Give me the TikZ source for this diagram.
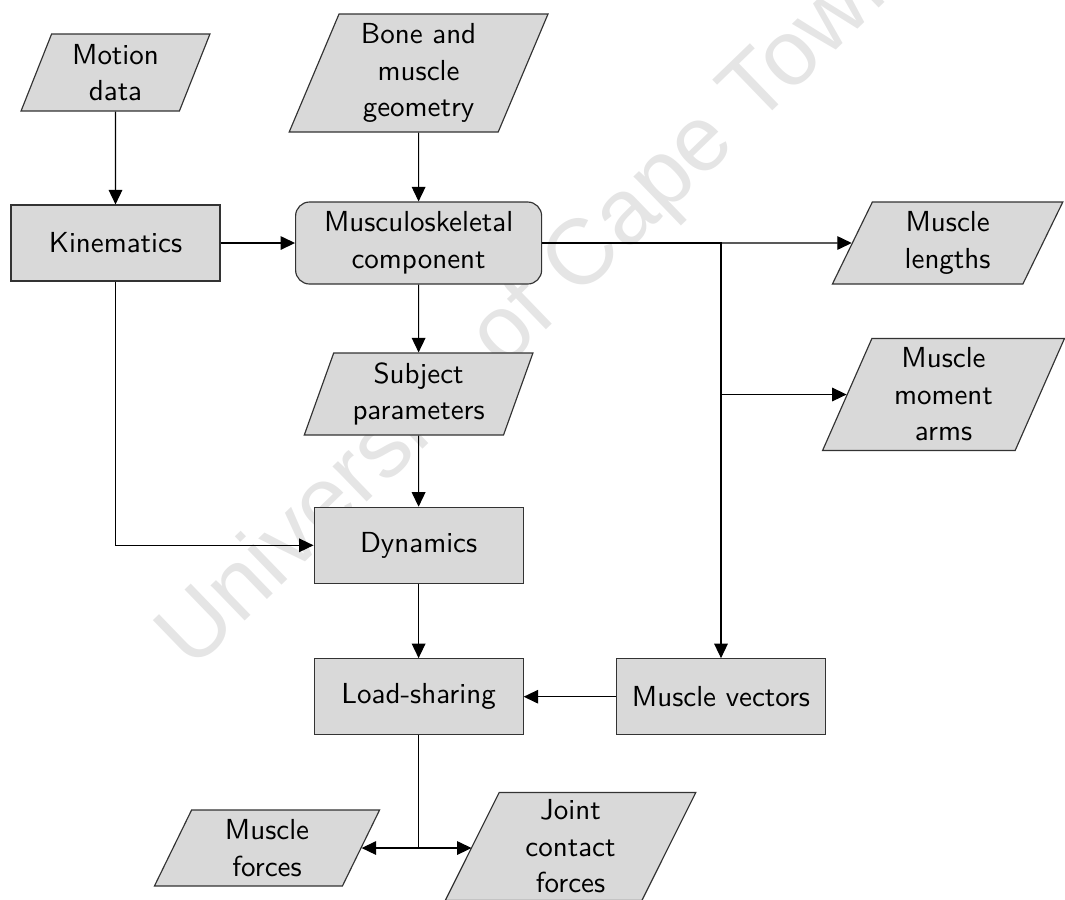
\documentclass[tikz,border=0pt]{standalone}
\usepackage{fontspec}
\usetikzlibrary{shapes.geometric,arrows.meta}
\newfontfamily\wmfont{Liberation Sans}

\tikzset{
  base/.style={draw=black!80, fill=black!15, line width=0.4pt, inner sep=0pt,
    align=center, font=\sffamily\fontsize{10pt}{12.6pt}\selectfont},
  procbox/.style={base, rectangle, minimum width=209*0.345pt, minimum height=76*0.345pt},
  iobox/.style={base, trapezium, trapezium left angle=70, trapezium right angle=110,
    trapezium stretches=true},
  flow/.style={draw=black, line width=0.4pt, -{Triangle[length=5pt,width=4.7pt]}},
  plain/.style={draw=black, line width=0.4pt},
}

\begin{document}
\begin{tikzpicture}[x=0.345pt, y=-0.345pt]
\useasboundingbox (0,0) rectangle (1065,899);

% faint watermark behind the chart
\begin{scope}
  \clip (0,0) rectangle (1065,899);
  \node[anchor=base west, rotate=44, text=black!10, inner sep=0pt,
        font=\wmfont\fontsize{32pt}{36pt}\selectfont] (wm) at (192,672)
        {University of Cape Town};
\end{scope}

% inputs
\node[iobox, minimum width=189*0.345pt, minimum height=77*0.345pt] (md) at (115.5,72.5) {Motion\\data};
\node[iobox, minimum width=260*0.345pt, minimum height=118*0.345pt] (bmg) at (418.6,73) {Bone and\\muscle\\geometry};

% processing chain
\node[procbox] (kin) at (115.5,243) {Kinematics};
\node[base, rectangle, rounded corners=4.8pt, minimum width=246*0.345pt, minimum height=82*0.345pt]
  (msk) at (418.6,243) {Musculoskeletal\\component};
\node[iobox, minimum width=230*0.345pt, minimum height=82*0.345pt] (sp) at (418.6,394) {Subject\\parameters};
\node[procbox] (dyn) at (418.6,545.3) {Dynamics};
\node[procbox] (ls) at (418.6,696.7) {Load-sharing};
\node[procbox] (mv) at (721,696.7) {Muscle vectors};

% outputs
\node[iobox, minimum width=231*0.345pt, minimum height=82*0.345pt] (ml) at (947.6,243) {Muscle\\lengths};
\node[iobox, minimum width=243*0.345pt, minimum height=112*0.345pt] (mma) at (943.5,394.5) {Muscle\\moment\\arms};
\node[iobox, minimum width=226*0.345pt, minimum height=76*0.345pt] (mf) at (267,848) {Muscle\\forces};
\node[iobox, minimum width=251*0.345pt, minimum height=108*0.345pt] (jcf) at (570.5,846.5) {Joint\\contact\\forces};

% junction points
\coordinate (jn) at (mv.north |- msk.east);
\coordinate (tap) at (mv.north |- mma.west);
\coordinate (split) at (ls.south |- mf.east);

% connectors
\draw[flow] (md.south) -- (kin.north);
\draw[flow] (bmg.south) -- (msk.north);
\draw[flow] (kin.east) -- (msk.west);
\draw[flow] (msk.east) -- (ml.west);
\draw[flow] (msk.east) -- (jn) -- (mv.north);
\draw[flow] (tap) -- (mma.west);
\draw[flow] (msk.south) -- (sp.north);
\draw[flow] (sp.south) -- (dyn.north);
\draw[flow] (kin.south) |- (dyn.west);
\draw[flow] (dyn.south) -- (ls.north);
\draw[flow] (mv.west) -- (ls.east);
\draw[plain] (ls.south) -- (split);
\draw[flow] (split) -- (mf.east);
\draw[flow] (split) -- (split -| jcf.west);
\end{tikzpicture}
\end{document}
